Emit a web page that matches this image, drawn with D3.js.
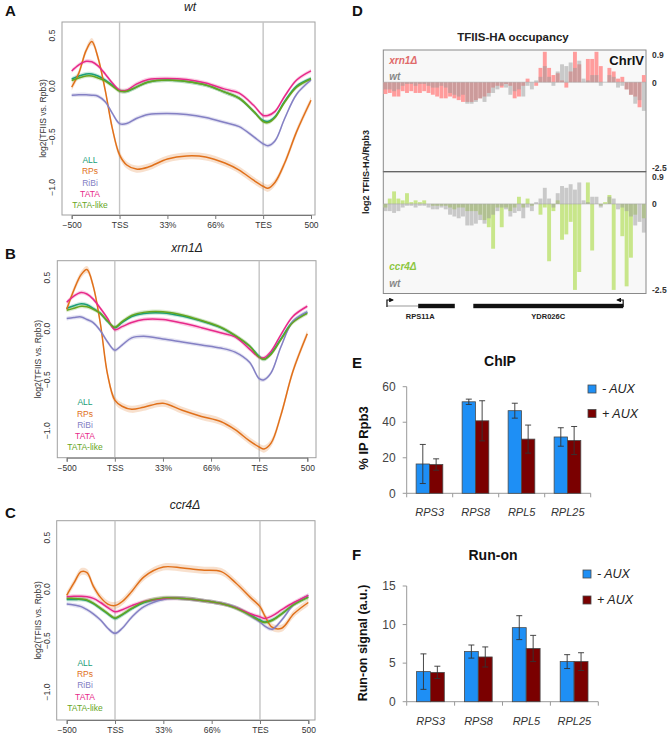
<!DOCTYPE html>
<html><head><meta charset="utf-8">
<script src="https://cdn.jsdelivr.net/npm/d3@7"></script>
<style>
body{margin:0;background:#fff;}
svg{display:block;font-family:Arial,"Liberation Sans",Helvetica,sans-serif;}
</style>
</head><body>
<svg id="fig" width="669" height="736"></svg>
<script>
// ================= DATA =================
// Metagene profiles (A-C): x position in metagene units (0=-500, 1=TSS, 2=33%, 3=66%, 4=TES, 5=+500)
const metaX = [0, 0.15, 0.3, 0.42, 0.55, 0.7, 0.85, 1.0, 1.15, 1.35, 1.6, 2.0, 2.4, 2.8, 3.2, 3.5, 3.8, 4.0, 4.1, 4.25, 4.45, 4.7, 5.0];
const metaTickPos = [0, 1, 2, 3, 4, 5];
const metaTickLabels = ["\u2212500", "TSS", "33%", "66%", "TES", "500"];
const metaYTicks = [0.5, 0.0, -0.5, -1.0];
const metaYTickLabels = ["0.5", "0.0", "\u22120.5", "\u22121.0"];
const geneClasses = ["ALL", "RPs", "RiBi", "TATA", "TATA-like"];

// panel A: wt
const A_ALL      = [0.07, 0.10, 0.12, 0.12, 0.10, 0.06, 0.01, -0.045, -0.05, -0.01, 0.04, 0.06, 0.045, 0.01, -0.06, -0.12, -0.25, -0.34, -0.35, -0.30, -0.15, 0.0, 0.075];
const A_RPs      = [-0.01, 0.13, 0.35, 0.44, 0.28, -0.04, -0.42, -0.68, -0.78, -0.82, -0.80, -0.72, -0.69, -0.70, -0.76, -0.83, -0.93, -0.99, -1.01, -0.95, -0.76, -0.45, -0.14];
const A_RiBi     = [-0.09, -0.085, -0.085, -0.09, -0.10, -0.155, -0.27, -0.37, -0.37, -0.32, -0.28, -0.27, -0.28, -0.31, -0.36, -0.40, -0.50, -0.57, -0.59, -0.54, -0.32, -0.08, 0.06];
const A_TATA     = [0.15, 0.21, 0.245, 0.24, 0.20, 0.12, 0.03, -0.04, -0.04, 0.02, 0.065, 0.075, 0.065, 0.03, -0.03, -0.07, -0.19, -0.29, -0.29, -0.25, -0.10, 0.06, 0.15];
const A_TATAlike = [0.055, 0.08, 0.10, 0.10, 0.08, 0.05, 0.0, -0.05, -0.05, -0.01, 0.04, 0.06, 0.045, 0.01, -0.06, -0.12, -0.25, -0.35, -0.36, -0.31, -0.16, -0.01, 0.07];

// panel B: xrn1Δ
const B_ALL      = [0.20, 0.225, 0.245, 0.235, 0.20, 0.15, 0.07, 0.01, 0.06, 0.12, 0.15, 0.155, 0.125, 0.075, 0.01, -0.07, -0.17, -0.27, -0.30, -0.24, -0.10, 0.07, 0.16];
const B_RPs      = [0.19, 0.38, 0.53, 0.58, 0.42, 0.05, -0.45, -0.70, -0.76, -0.79, -0.77, -0.73, -0.80, -0.86, -0.91, -0.99, -1.10, -1.16, -1.18, -1.12, -0.85, -0.42, -0.05];
const B_RiBi     = [0.10, 0.11, 0.115, 0.09, 0.06, -0.02, -0.13, -0.21, -0.16, -0.09, -0.075, -0.10, -0.13, -0.16, -0.19, -0.23, -0.33, -0.49, -0.50, -0.43, -0.18, 0.07, 0.165];
const B_TATA     = [0.26, 0.32, 0.355, 0.34, 0.29, 0.20, 0.10, -0.01, 0.02, 0.06, 0.09, 0.09, 0.055, 0.01, -0.04, -0.08, -0.20, -0.28, -0.285, -0.22, -0.06, 0.12, 0.22];
const B_TATAlike = [0.18, 0.20, 0.22, 0.215, 0.19, 0.15, 0.075, 0.015, 0.07, 0.13, 0.16, 0.165, 0.135, 0.08, 0.015, -0.065, -0.17, -0.28, -0.30, -0.25, -0.11, 0.06, 0.15];

// panel C: ccr4Δ
const C_ALL      = [-0.10, -0.10, -0.10, -0.11, -0.14, -0.19, -0.24, -0.285, -0.25, -0.19, -0.13, -0.09, -0.09, -0.11, -0.14, -0.18, -0.25, -0.30, -0.32, -0.30, -0.24, -0.15, -0.075];
const C_RPs      = [-0.06, 0.06, 0.17, 0.16, 0.03, -0.08, -0.145, -0.16, -0.12, -0.02, 0.12, 0.215, 0.205, 0.185, 0.17, 0.06, -0.08, -0.17, -0.26, -0.37, -0.38, -0.24, -0.13];
const C_RiBi     = [-0.145, -0.155, -0.17, -0.20, -0.24, -0.30, -0.38, -0.43, -0.38, -0.27, -0.17, -0.10, -0.09, -0.11, -0.14, -0.18, -0.26, -0.32, -0.36, -0.39, -0.30, -0.15, -0.06];
const C_TATA     = [-0.075, -0.07, -0.07, -0.075, -0.09, -0.13, -0.18, -0.22, -0.20, -0.16, -0.12, -0.09, -0.09, -0.11, -0.14, -0.18, -0.24, -0.27, -0.285, -0.26, -0.20, -0.13, -0.06];
const C_TATAlike = [-0.09, -0.09, -0.095, -0.105, -0.135, -0.185, -0.235, -0.28, -0.245, -0.185, -0.125, -0.085, -0.09, -0.11, -0.14, -0.185, -0.255, -0.31, -0.325, -0.305, -0.24, -0.15, -0.08];

// Panel D: TFIIS-HA occupancy, log2 TFIIS-HA/Rpb3 per bin along ChrIV region
const wtD   = [-0.2,-0.2,-0.25,-0.2,-0.1,-0.05,-0.05,-0.1,-0.05,-0.05,-0.1,-0.15,-0.15,-0.1,-0.15,-0.3,-0.35,-0.4,-0.35,-0.6,-0.6,-0.55,-0.45,-0.55,-0.4,-0.3,-0.2,-0.1,-0.15,-0.35,-0.25,-0.2,-0.4,-0.1,-0.2,0.05,0.15,0.45,0.15,-0.1,0.3,0.5,0.45,0.55,0.4,0.6,0.1,0.05,0.2,0.2,-0.1,0.0,0.2,0.15,-0.15,-0.1,-0.2,-0.35,-0.6,-0.5,-0.8];
const xrn1D = [-0.33,-0.3,-0.4,-0.4,-0.25,-0.3,-0.25,-0.3,-0.3,-0.25,-0.3,-0.35,-0.4,-0.45,-0.45,-0.4,-0.45,-0.5,-0.55,-0.55,-0.55,-0.5,-0.45,-0.4,-0.3,-0.15,-0.1,-0.15,-0.05,-0.1,-0.45,-0.4,-0.1,0.1,0.0,-0.1,0.4,0.85,0.4,0.2,0.25,0.05,-0.15,0.3,0.85,0.5,0.0,0.65,0.65,0.85,0.45,0.0,0.4,0.3,0.1,0.15,-0.2,-0.35,-0.4,-0.7,0.2];
const ccr4D = [-0.1,0.15,0.35,0.15,0.1,0.3,0.05,0.1,0.05,0.1,0.0,-0.05,-0.05,-0.05,-0.05,-0.1,-0.15,-0.1,-0.1,-0.2,-0.2,-0.2,-0.3,-0.45,-0.65,-1.25,-0.1,-0.65,-0.1,-0.2,-0.1,0.2,-0.1,0.15,-0.05,0.0,-0.3,-0.1,-1.6,-0.2,0.1,-1.0,-0.85,-0.5,-2.4,-1.9,0.0,0.6,-1.3,0.0,-0.05,0.05,0.25,-2.4,0.0,-0.9,-2.3,-1.5,-0.3,0.0,-0.4];
const dYTicks = [0.9, 0, -2.5];
const dYTickLabels = ["0.9", "0", "-2.5"];
// gene annotation, in bin units
const trackGenes = ["RPS11A", "YDR026C"];
const trackUtrStart = [0.85, null];
const trackCdsStart = [8.1, 20.9];
const trackCdsEnd   = [16.6, 55.7];
const trackStrand   = ["+", "-"];

// Panels E, F
const genesEF = ["RPS3", "RPS8", "RPL5", "RPL25"];
const conditions = ["- AUX", "+ AUX"];
const chipMinus    = [16.5, 51.5, 46.5, 31.7];
const chipMinusErr = [11.0, 1.5, 4.2, 5.2];
const chipPlus     = [16.2, 40.8, 30.5, 29.7];
const chipPlusErr  = [3.2, 11.3, 7.9, 7.9];
const chipTicks    = [0, 20, 40, 60];
const runMinus     = [3.9, 6.5, 9.6, 5.2];
const runMinusErr  = [2.3, 0.85, 1.55, 0.9];
const runPlus      = [3.8, 5.8, 6.9, 5.2];
const runPlusErr   = [0.8, 1.3, 1.7, 1.15];
const runTicks     = [0, 5, 10, 15];

// ================= DRAWING =================
const svg = d3.select("#fig");
const classColors = ["#1b9e77", "#e0701a", "#8480c4", "#e7298a", "#66a61e"];

function panelLetter(txt, x, y) {
  svg.append("text").attr("x", x).attr("y", y).text(txt)
    .attr("font-size", 15).attr("font-weight", "bold").attr("fill", "#111");
}

function metaPanel(o) {
  const g = svg.append("g");
  const x = d3.scaleLinear().domain([0, 5]).range([o.x0, o.x5]);
  const y = d3.scaleLinear().domain([-1, 0.5]).range([o.yM1, o.yP5]);
  const b = o.box;
  g.append("rect").attr("x", b.l).attr("y", b.t).attr("width", b.r - b.l).attr("height", b.b - b.t)
    .attr("fill", "none").attr("stroke", "#a0a0a0").attr("stroke-width", 1);
  [1, 4].forEach(v => g.append("line").attr("x1", x(v)).attr("x2", x(v)).attr("y1", b.t).attr("y2", b.b)
    .attr("stroke", "#c4c4c4").attr("stroke-width", 1.4));
  const curve = d3.curveCatmullRom.alpha(0.5);
  o.series.forEach((vals, k) => {
    const hw = k === 1 ? 0.035 : 0.02;
    const area = d3.area().x((d, i) => x(metaX[i])).y0(d => y(d - hw)).y1(d => y(d + hw)).curve(curve);
    g.append("path").attr("d", area(vals)).attr("fill", classColors[k]).attr("opacity", 0.22);
  });
  o.series.forEach((vals, k) => {
    const line = d3.line().x((d, i) => x(metaX[i])).y(d => y(d)).curve(curve);
    g.append("path").attr("d", line(vals)).attr("fill", "none").attr("stroke", classColors[k]).attr("stroke-width", 1.5);
  });
  // x axis
  const ax = g.append("g").attr("transform", `translate(0,${b.b})`)
    .call(d3.axisBottom(x).tickValues(metaTickPos).tickFormat((d, i) => metaTickLabels[i]).tickSizeOuter(0).tickSize(4).tickPadding(3));
  ax.select(".domain").attr("stroke", "#777");
  ax.selectAll(".tick line").attr("stroke", "#777");
  ax.selectAll("text").attr("font-size", 8.5).attr("fill", "#333").attr("font-family", "Arial, 'Liberation Sans', sans-serif");
  // y tick labels (rotated)
  metaYTicks.forEach((v, i) => {
    g.append("text").attr("transform", `translate(${b.l - 10},${y(v)}) rotate(-90)`)
      .attr("text-anchor", "middle").attr("dy", "0.35em").attr("font-size", 8.5).attr("fill", "#333")
      .text(metaYTickLabels[i]);
  });
  g.append("text").attr("transform", `translate(${b.l - 19},${(b.t + b.b) / 2}) rotate(-90)`)
    .attr("text-anchor", "middle").attr("dy", "0.35em").attr("font-size", 8.5).attr("fill", "#333")
    .text("log2(TFIIS vs. Rpb3)");
  // legend
  geneClasses.forEach((c, k) => {
    g.append("text").attr("x", o.legX).attr("y", o.legY + k * 11.3).attr("dy", "0.35em")
      .attr("text-anchor", "middle").attr("font-size", 8.5).attr("fill", classColors[k]).text(c);
  });
  // title
  g.append("text").attr("x", o.titleX).attr("y", o.titleY).attr("text-anchor", "middle")
    .attr("font-size", 12).attr("font-style", "italic").attr("fill", "#222").text(o.title);
}

metaPanel({title: "wt", titleX: 190, titleY: 11, box: {l: 62, r: 315, t: 22, b: 215},
  x0: 71.7, x5: 311, yP5: 35.5, yM1: 187.3, legX: 90, legY: 160,
  series: [A_ALL, A_RPs, A_RiBi, A_TATA, A_TATAlike]});
metaPanel({title: "xrn1\u0394", titleX: 187, titleY: 252, box: {l: 57.3, r: 316, t: 260.7, b: 457.7},
  x0: 66.7, x5: 307.3, yP5: 277.7, yM1: 430.7, legX: 85, legY: 402.3,
  series: [B_ALL, B_RPs, B_RiBi, B_TATA, B_TATAlike]});
metaPanel({title: "ccr4\u0394", titleX: 185, titleY: 509, box: {l: 56.7, r: 315, t: 520.7, b: 720},
  x0: 66.7, x5: 308.3, yP5: 537.7, yM1: 692, legX: 85, legY: 662.7,
  series: [C_ALL, C_RPs, C_RiBi, C_TATA, C_TATAlike]});
panelLetter("A", 5, 16);
panelLetter("B", 5, 259);
panelLetter("C", 5, 518);

// ----- Panel D -----
(function () {
  const L = 383.3, R = 646;
  const xb = d3.scaleLinear().domain([0, wtD.length]).range([L, R]);
  const boxes = [{t: 50, b: 171.7, mut: xrn1D, col: "#ff9c9c", lab: "xrn1\u0394", labCol: "#e06a6a"},
                 {t: 171.7, b: 293.5, mut: ccr4D, col: "#c8e68a", lab: "ccr4\u0394", labCol: "#8cc63f"}];
  boxes.forEach(bx => {
    const y = d3.scaleLinear().domain([-2.5, 0.9]).range([bx.b, bx.t]);
    svg.append("rect").attr("x", L).attr("y", bx.t).attr("width", R - L).attr("height", bx.b - bx.t)
      .attr("fill", "#f8f8f8").attr("stroke", "#8a8a8a").attr("stroke-width", 1);
    svg.append("g").selectAll("rect").data(bx.mut).join("rect")
      .attr("x", (d, i) => xb(i) + 0.2).attr("width", (d, i) => xb(i + 1) - xb(i) - 0.4)
      .attr("y", d => Math.min(y(d), y(0))).attr("height", d => Math.abs(y(d) - y(0)))
      .attr("fill", bx.col);
    svg.append("g").selectAll("rect").data(wtD).join("rect")
      .attr("x", (d, i) => xb(i) + 0.2).attr("width", (d, i) => xb(i + 1) - xb(i) - 0.4)
      .attr("y", d => Math.min(y(d), y(0))).attr("height", d => Math.abs(y(d) - y(0)))
      .attr("fill", "#999").attr("opacity", 0.5);
    svg.append("line").attr("x1", L).attr("x2", R).attr("y1", y(0)).attr("y2", y(0))
      .attr("stroke", "#aaa").attr("stroke-width", 0.6);
    dYTicks.forEach((v, i) => {
      const yy = v === 0.9 ? y(v) + 8 : (v === 0 ? y(v) + 3.5 : y(v) - 1);
      svg.append("text").attr("x", R + 6).attr("y", yy).attr("font-size", 8.5).attr("font-weight", "bold")
        .attr("fill", "#333").text(dYTickLabels[i]);
    });
    svg.append("text").attr("x", L + 6).attr("y", bx.t === 50 ? 63.5 : 270).attr("font-size", 10)
      .attr("font-weight", "bold").attr("font-style", "italic").attr("fill", bx.labCol).text(bx.lab);
    svg.append("text").attr("x", L + 6).attr("y", bx.t === 50 ? 80 : 287).attr("font-size", 10)
      .attr("font-weight", "bold").attr("font-style", "italic").attr("fill", "#888").text("wt");
  });
  svg.append("line").attr("x1", L).attr("x2", R).attr("y1", 171.7).attr("y2", 171.7).attr("stroke", "#666").attr("stroke-width", 1.2);
  svg.append("text").attr("x", R - 2).attr("y", 65).attr("text-anchor", "end").attr("font-size", 13)
    .attr("font-weight", "bold").attr("fill", "#111").text("ChrIV");
  svg.append("text").attr("x", 513).attr("y", 41).attr("text-anchor", "middle").attr("font-size", 11.5)
    .attr("font-weight", "bold").attr("fill", "#222").text("TFIIS-HA occupancy");
  svg.append("text").attr("transform", "translate(366,172) rotate(-90)").attr("text-anchor", "middle")
    .attr("dy", "0.35em").attr("font-size", 9).attr("font-weight", "bold").attr("fill", "#222").text("log2 TFIIS-HA/Rpb3");
  // gene track
  const ty = 306;
  svg.append("defs").append("marker").attr("id", "ah").attr("viewBox", "0 0 10 10").attr("refX", 8).attr("refY", 5)
    .attr("markerWidth", 4).attr("markerHeight", 4).attr("orient", "auto")
    .append("path").attr("d", "M0,0L10,5L0,10z").attr("fill", "#111");
  trackGenes.forEach((gname, i) => {
    const s = xb(trackCdsStart[i]), e = xb(trackCdsEnd[i]);
    if (trackUtrStart[i] !== null) {
      svg.append("line").attr("x1", xb(trackUtrStart[i])).attr("x2", s).attr("y1", ty).attr("y2", ty)
        .attr("stroke", "#999").attr("stroke-width", 1);
    }
    svg.append("rect").attr("x", s).attr("y", ty - 2.2).attr("width", e - s).attr("height", 4.4).attr("fill", "#111");
    const ax = trackStrand[i] === "+" ? xb(trackUtrStart[i]) : e;
    const dir = trackStrand[i] === "+" ? 1 : -1;
    svg.append("path").attr("d", `M${ax},${ty + 1}V${ty - 6}H${ax + dir * 6}`).attr("fill", "none")
      .attr("stroke", "#111").attr("stroke-width", 1.2).attr("marker-end", "url(#ah)");
    const cx = trackStrand[i] === "+" ? (s + 2) : (s + e) / 2;
    svg.append("text").attr("x", cx).attr("y", 319).attr("text-anchor", "middle").attr("font-size", 7.5)
      .attr("font-weight", "bold").attr("fill", "#222").text(gname);
  });
})();
panelLetter("D", 352, 16);

// ----- Panels E and F -----
function barPanel(o) {
  const x = d3.scaleBand().domain(genesEF).range([o.l, o.r]).padding(0);
  const y = d3.scaleLinear().domain([0, o.ticks[o.ticks.length - 1]]).range([o.y0, o.yTop]);
  const sub = d3.scaleBand().domain(conditions).range([x.bandwidth() * 0.205, x.bandwidth() * 0.785]).padding(0);
  const cols = ["#1e8ff5", "#7a0000"];
  const g = svg.append("g");
  // axes
  g.append("line").attr("x1", o.l).attr("x2", o.l).attr("y1", y(o.ticks[o.ticks.length - 1])).attr("y2", o.y0).attr("stroke", "#999");
  g.append("line").attr("x1", o.l).attr("x2", o.r).attr("y1", o.y0).attr("y2", o.y0).attr("stroke", "#999");
  o.ticks.forEach(t => {
    g.append("line").attr("x1", o.l - 4).attr("x2", o.l).attr("y1", y(t)).attr("y2", y(t)).attr("stroke", "#999");
    g.append("text").attr("x", o.l - 11).attr("y", y(t)).attr("dy", "0.35em").attr("text-anchor", "end")
      .attr("font-size", 12).attr("fill", "#444").text(t);
  });
  [o.l].concat(genesEF.map(gn => x(gn) + x.bandwidth())).forEach(xx => {
    g.append("line").attr("x1", xx).attr("x2", xx).attr("y1", o.y0).attr("y2", o.y0 + 4).attr("stroke", "#999");
  });
  genesEF.forEach((gn, i) => {
    g.append("text").attr("x", x(gn) + x.bandwidth() / 2).attr("y", o.labY).attr("text-anchor", "middle")
      .attr("font-size", 11).attr("font-style", "italic").attr("fill", "#333").text(gn);
  });
  [[o.minus, o.minusErr], [o.plus, o.plusErr]].forEach(([vals, errs], k) => {
    g.append("g").selectAll("rect").data(vals).join("rect")
      .attr("x", (d, i) => x(genesEF[i]) + sub(conditions[k])).attr("width", sub.bandwidth())
      .attr("y", d => y(d)).attr("height", d => y(0) - y(d))
      .attr("fill", cols[k]).attr("stroke", "#4a4a4a").attr("stroke-width", 0.8);
    vals.forEach((v, i) => {
      const cx = x(genesEF[i]) + sub(conditions[k]) + sub.bandwidth() / 2;
      const y1 = y(v + errs[i]), y2 = y(v - errs[i]);
      g.append("line").attr("x1", cx).attr("x2", cx).attr("y1", y1).attr("y2", y2).attr("stroke", "#333").attr("stroke-width", 0.9);
      [y1, y2].forEach(yy => g.append("line").attr("x1", cx - 3).attr("x2", cx + 3).attr("y1", yy).attr("y2", yy)
        .attr("stroke", "#333").attr("stroke-width", 0.9));
    });
  });
  // title & y label
  g.append("text").attr("x", o.titleX).attr("y", o.titleY).attr("text-anchor", "middle").attr("font-size", 14)
    .attr("font-weight", "bold").attr("fill", "#111").text(o.title);
  g.append("text").attr("transform", `translate(363,${o.ylabY}) rotate(-90)`).attr("text-anchor", "middle")
    .attr("dy", "0.35em").attr("font-size", o.ylabSize).attr("font-weight", "bold").attr("fill", "#111").text(o.ylab);
  // legend
  conditions.forEach((c, k) => {
    g.append("rect").attr("x", o.legX).attr("y", o.legY + k * o.legDy - 4).attr("width", 8).attr("height", 8)
      .attr("fill", cols[k]).attr("stroke", "#4a4a4a").attr("stroke-width", 0.8);
    g.append("text").attr("x", o.legX + 14).attr("y", o.legY + k * o.legDy).attr("dy", "0.35em")
      .attr("font-size", 12.5).attr("font-style", "italic").attr("fill", "#222").text(c);
  });
}

barPanel({l: 406.7, r: 590.7, y0: 493.3, yTop: 386.7, ticks: chipTicks, labY: 516,
  minus: chipMinus, minusErr: chipMinusErr, plus: chipPlus, plusErr: chipPlusErr,
  title: "ChIP", titleX: 500, titleY: 366, ylab: "% IP Rpb3", ylabY: 438, ylabSize: 13,
  legX: 588, legY: 389, legDy: 24.5});
barPanel({l: 406.7, r: 598.3, y0: 701.7, yTop: 586, ticks: runTicks, labY: 725,
  minus: runMinus, minusErr: runMinusErr, plus: runPlus, plusErr: runPlusErr,
  title: "Run-on", titleX: 493, titleY: 560, ylab: "Run-on signal (a.u.)", ylabY: 643, ylabSize: 12.5,
  legX: 583, legY: 574, legDy: 26});
panelLetter("E", 352, 368);
panelLetter("F", 352, 560);
</script>
</body></html>
